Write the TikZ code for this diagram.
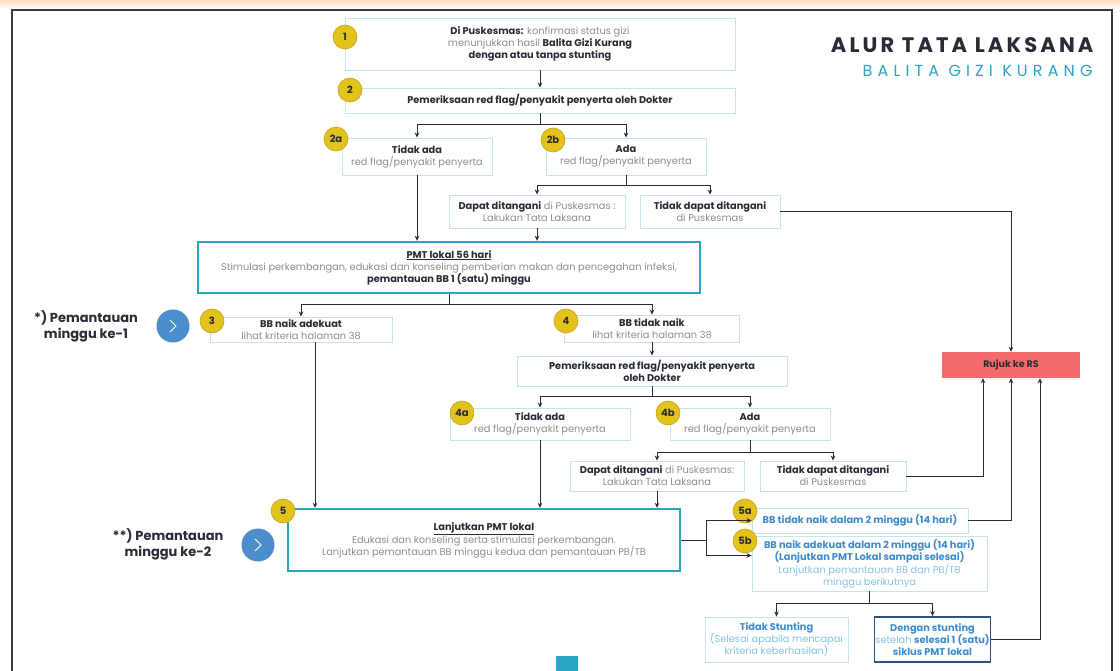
\documentclass[tikz,border=0pt]{standalone}
\usepackage{fontspec}
\setmainfont{Poppins}
\usetikzlibrary{arrows.meta}

\definecolor{tosca}{HTML}{2AA6C3}
\definecolor{tipis}{HTML}{C4E5EC}
\definecolor{abu}{HTML}{8E8E8E}
\definecolor{gelap}{HTML}{2A2B36}
\definecolor{kuning}{HTML}{E4C21C}
\definecolor{biru}{HTML}{4B8ECB}
\definecolor{birutua}{HTML}{2D5682}
\definecolor{birutks}{HTML}{3C8DCF}
\definecolor{birumuda}{HTML}{86C3E4}
\definecolor{merah}{HTML}{F46B6B}
\definecolor{bingkai}{HTML}{3A3A3A}

\newcommand{\tebal}[1]{{\bfseries\color{gelap}#1}}
\newcommand{\tebalbiru}[1]{{\bfseries\color{birutks}#1}}

\tikzset{
    kotak/.style={draw=tipis, line width=0.9pt, align=center, inner sep=1pt,
        text=abu, font=\fontsize{9.8}{12}\selectfont},
    kotaktebal/.style={kotak, draw=tosca, line width=2.4pt},
    nomor/.style={circle, fill=kuning, draw=kuning!85!black, line width=0.6pt,
        minimum size=24pt, inner sep=0pt, text=gelap,
        font=\bfseries\fontsize{10}{10}\selectfont},
    bulat/.style={circle, fill=biru, minimum size=33pt, inner sep=0pt},
    catatan/.style={align=center, text=gelap, font=\bfseries\fontsize{13}{16}\selectfont},
    garis/.style={draw=gelap, line width=0.9pt},
    panah/.style={garis, -{Stealth[length=5pt,width=4.5pt]}}
}

\begin{document}
\begin{tikzpicture}[x=1pt, y=-1pt]

    \useasboundingbox (0,0) rectangle (1120,671);
    \fill[white] (0,0) rectangle (1120,671);
    \shade[top color=orange!25, bottom color=white] (0,0) rectangle (1120,9);
    \draw[bingkai, line width=1.4pt] (12,680) -- (12,10) -- (1112,10) -- (1112,680);
    \fill[tosca] (556,656) rectangle (578,671);

    \node[anchor=east, text=gelap, font=\bfseries\fontsize{21}{22}\selectfont\addfontfeature{LetterSpace=15}] (judul) at (1097,45) {ALUR TATA LAKSANA};
    \node[anchor=east, text=tosca, font=\fontsize{16}{18}\selectfont\addfontfeature{LetterSpace=32}] (subjudul) at (1096,71) {BALITA GIZI KURANG};

    \node[kotak, minimum width=390pt, minimum height=52pt] (awal) at (540,44)
        {\tebal{Di Puskesmas:} konfirmasi status gizi\\ menunjukkan hasil \tebal{Balita Gizi Kurang}\\ \tebal{dengan atau tanpa stunting}};
    \node[kotak, minimum width=390pt, minimum height=25pt] (periksa) at (540,100.5)
        {\tebal{Pemeriksaan red flag/penyakit penyerta oleh Dokter}};
    \node[kotak, minimum width=150pt, minimum height=37pt] (tidakada) at (417,156.5)
        {\tebal{Tidak ada}\\ red flag/penyakit penyerta};
    \node[kotak, minimum width=160pt, minimum height=37pt] (ada) at (626,156.5)
        {\tebal{Ada}\\ red flag/penyakit penyerta};
    \node[kotak, minimum width=176pt, minimum height=33pt] (dapat) at (537,211.5)
        {\tebal{Dapat ditangani} di Puskesmas :\\ Lakukan Tata Laksana};
    \node[kotak, minimum width=140pt, minimum height=33pt] (tidakdapat) at (710,211.5)
        {\tebal{Tidak dapat ditangani}\\ di Puskesmas};
    \node[kotaktebal, minimum width=502pt, minimum height=51pt] (pmt) at (449,267.5)
        {\tebal{\underline{PMT lokal 56 hari}}\\ Stimulasi perkembangan, edukasi dan konseling pemberian makan dan pencegahan infeksi,\\ \tebal{pemantauan BB 1 (satu) minggu}};

    \node[kotak, minimum width=182pt, minimum height=25pt] (naik) at (301,329.5)
        {\tebal{BB naik adekuat}\\ lihat kriteria halaman 38};
    \node[kotak, minimum width=175pt, minimum height=27pt] (tidaknaik) at (652,328.5)
        {\tebal{BB tidak naik}\\ lihat kriteria halaman 38};
    \node[kotak, minimum width=270pt, minimum height=30pt] (periksadua) at (652,371)
        {\tebal{Pemeriksaan red flag/penyakit penyerta}\\ \tebal{oleh Dokter}};
    \node[kotak, minimum width=180pt, minimum height=32pt] (tidakadadua) at (540,424)
        {\tebal{Tidak ada}\\ red flag/penyakit penyerta};
    \node[kotak, minimum width=160pt, minimum height=32pt] (adadua) at (750,424)
        {\tebal{Ada}\\ red flag/penyakit penyerta};
    \node[kotak, minimum width=174pt, minimum height=30pt] (dapatdua) at (657,476)
        {\tebal{Dapat ditangani} di Puskesmas:\\ Lakukan Tata Laksana};
    \node[kotak, minimum width=146pt, minimum height=30pt] (tidakdapatdua) at (833,476)
        {\tebal{Tidak dapat ditangani}\\ di Puskesmas};

    \node[kotaktebal, minimum width=392pt, minimum height=62pt] (lanjut) at (484,540)
        {\tebal{\underline{Lanjutkan PMT lokal}}\\ Edukasi dan konseling serta stimulasi perkembangan.\\ Lanjutkan pemantauan BB minggu kedua dan pemantauan PB/TB};
    \node[kotak, minimum width=216pt, minimum height=25pt] (hasil5a) at (860,520.5)
        {\tebalbiru{BB tidak naik dalam 2 minggu (14 hari)}};
    \node[kotak, minimum width=235pt, minimum height=55pt, text=birumuda, font=\fontsize{9.8}{11.5}\selectfont] (hasil5b) at (869.5,563.5)
        {\tebalbiru{BB naik adekuat dalam 2 minggu (14 hari)}\\ \tebalbiru{(Lanjutkan PMT Lokal sampai selesai)}\\ Lanjutkan pemantauan BB dan PB/TB\\ minggu berikutnya};
    \node[kotak, minimum width=143pt, minimum height=45pt, text=birumuda] (tidakstunting) at (776.5,639.5)
        {\tebalbiru{Tidak Stunting}\\ (Selesai apabila mencapai\\ kriteria keberhasilan)};
    \node[kotak, draw=birutua, line width=1.8pt, minimum width=115pt, minimum height=45pt, text=birumuda] (stunting) at (932.5,639.5)
        {\tebalbiru{Dengan stunting}\\ setelah \tebalbiru{selesai 1 (satu)}\\ \tebalbiru{siklus PMT lokal}};

    \node[fill=merah, minimum width=138pt, minimum height=26pt, text=gelap, font=\bfseries\fontsize{9.5}{10}\selectfont] (rujuk) at (1011,365) {Rujuk ke RS};

    \node[nomor] (n1) at (345,37) {1};
    \node[nomor] (n2) at (350,90) {2};
    \node[nomor] (n2a) at (336,139) {2a};
    \node[nomor] (n2b) at (553,140) {2b};
    \node[nomor] (n3) at (212,321) {3};
    \node[nomor] (n4) at (566,321) {4};
    \node[nomor] (n4a) at (462,413) {4a};
    \node[nomor] (n4b) at (668,413) {4b};
    \node[nomor] (n5) at (283,511) {5};
    \node[nomor] (n5a) at (745,511) {5a};
    \node[nomor] (n5b) at (745,541) {5b};

    \node[catatan] (minggu1) at (86,326) {*) Pemantauan\\ minggu ke-1};
    \node[bulat] (bulat1) at (173,326) {};
    \draw[white, line width=0.8pt] ([xshift=-3pt,yshift=6pt]bulat1.center) -- ++(6,6) -- ++(-6,6);
    \node[catatan] (minggu2) at (168,544) {**) Pemantauan\\ minggu ke-2};
    \node[bulat] (bulat2) at (258,545) {};
    \draw[white, line width=0.8pt] ([xshift=-3pt,yshift=6pt]bulat2.center) -- ++(6,6) -- ++(-6,6);

    \draw[panah] (awal) -- (periksa);
    \draw[garis] (periksa.south) -- ++(0,11) coordinate (cab1);
    \draw[panah] (cab1) -| (tidakada);
    \draw[panah] (cab1) -| (ada);
    \draw[garis] (ada.south) -- ++(0,10) coordinate (cab2);
    \draw[panah] (cab2) -| (dapat);
    \draw[panah] (cab2) -| (tidakdapat);
    \draw[panah] (tidakada.south) -- (tidakada.south |- pmt.north);
    \draw[panah] (dapat.south) -- (dapat.south |- pmt.north);
    \draw[panah] (tidakdapat.east) -| (rujuk.north);

    \draw[garis] (pmt.south) -- ++(0,10) coordinate (cab3);
    \draw[panah] (cab3) -| (naik);
    \draw[panah] (cab3) -| (tidaknaik);
    \draw[panah] (tidaknaik) -- (periksadua);
    \draw[garis] (periksadua.south) -- ++(0,10) coordinate (cab4);
    \draw[panah] (cab4) -| (tidakadadua);
    \draw[panah] (cab4) -| (adadua);
    \draw[garis] (adadua.south) -- ++(0,12) coordinate (cab5);
    \draw[panah] (cab5) -| (dapatdua);
    \draw[panah] (cab5) -| (tidakdapatdua);
    \draw[panah] ([xshift=14pt]naik.south) -- ([xshift=14pt]naik.south |- lanjut.north);
    \draw[panah] (tidakadadua.south) -- (tidakadadua.south |- lanjut.north);
    \draw[panah] (dapatdua.south) -- (dapatdua.south |- lanjut.north);
    \draw[panah] (tidakdapatdua.east) -| ([xshift=-28pt]rujuk.south);

    \draw[garis] (lanjut.east) -- ++(25,0) coordinate (cab6);
    \draw[panah] (cab6) |- (hasil5a.west);
    \draw[panah] (cab6) |- ([yshift=8pt]hasil5b.west);
    \draw[panah] (hasil5a.east) -| (rujuk.south);
    \draw[garis] (hasil5b.south) -- ++(0,12) coordinate (cab7);
    \draw[panah] (cab7) -| (tidakstunting);
    \draw[panah] (cab7) -| (stunting);
    \draw[panah] (stunting.east) -| ([xshift=29pt]rujuk.south);

\end{tikzpicture}
\end{document}
